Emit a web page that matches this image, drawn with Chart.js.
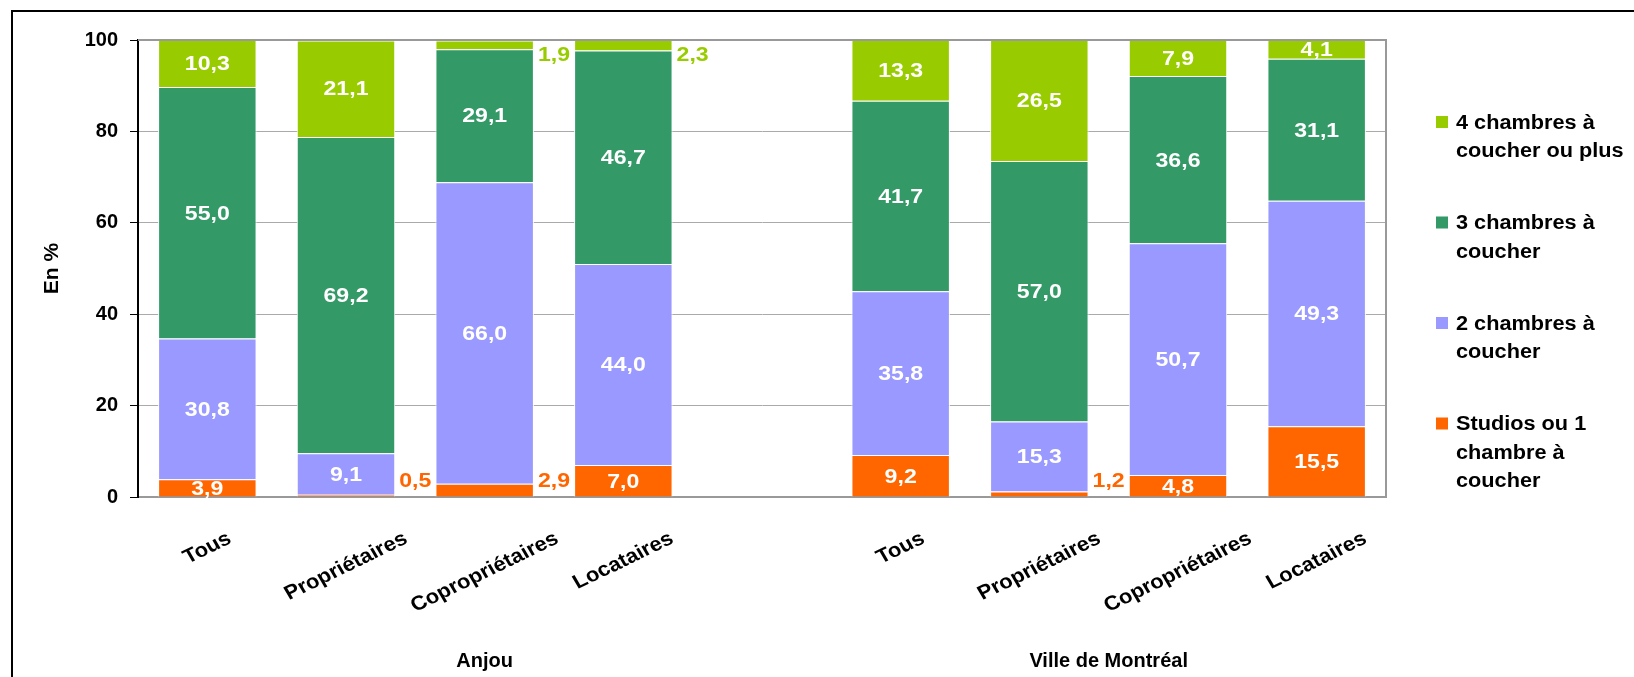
<!DOCTYPE html>
<html>
<head>
<meta charset="utf-8">
<script src="https://cdn.jsdelivr.net/npm/chart.js@4.4.0/dist/chart.umd.min.js"></script>
<style>
  html, body { margin: 0; padding: 0; background: #fff; }
  #wrap { position: relative; width: 1634px; height: 677px; overflow: hidden; }
  #frame { position: absolute; left: 11px; top: 10px; width: 1700px; height: 700px;
           border-top: 2px solid #000; border-left: 2px solid #000; }
  canvas { position: absolute; left: 0; top: 0; }
</style>
</head>
<body>
<div id="wrap">
  <div id="frame"></div>
  <canvas id="chart" width="1634" height="677"></canvas>
</div>
<script>
// categories (empty slot separates the two groups)
const categories = ['Tous', 'Propriétaires', 'Copropriétaires', 'Locataires', '',
                    'Tous', 'Propriétaires', 'Copropriétaires', 'Locataires'];
const groups = [
    { label: 'Anjou', from: 0, to: 4 },
    { label: 'Ville de Montréal', from: 5, to: 8 }
];

// values in %
const studios  = [3.9, 0.5, 2.9, 7.0, null, 9.2, 1.2, 4.8, 15.5];
const deuxCh   = [30.8, 9.1, 66.0, 44.0, null, 35.8, 15.3, 50.7, 49.3];
const troisCh  = [55.0, 69.2, 29.1, 46.7, null, 41.7, 57.0, 36.6, 31.1];
const quatreCh = [10.3, 21.1, 1.9, 2.3, null, 13.3, 26.5, 7.9, 4.1];

const seriesNames = [
    ['Studios ou 1', 'chambre à', 'coucher'],
    ['2 chambres à', 'coucher'],
    ['3 chambres à', 'coucher'],
    ['4 chambres à', 'coucher ou plus']
];
const seriesColors = ['#ff6600', '#9999ff', '#339966', '#99cc00'];

const FONT = "'Liberation Sans', Arial, sans-serif";
Chart.defaults.font.family = FONT;
Chart.defaults.color = '#000';

function fmt(v) {
    return v.toFixed(1).replace('.', ',');
}

// text in the original is a bit wider than Arial, stretch it horizontally
function wideText(ctx, text, x, y, sx) {
    ctx.save();
    ctx.translate(x, y);
    ctx.scale(sx, 1);
    ctx.fillText(text, 0, 0);
    ctx.restore();
}

const labelsPlugin = {
    id: 'segmentLabels',
    afterDatasetsDraw(chart) {
        const ctx = chart.ctx;
        const area = chart.chartArea;
        ctx.save();
        ctx.font = 'bold 21px ' + FONT;
        ctx.textBaseline = 'middle';
        chart.data.datasets.forEach((ds, i) => {
            const meta = chart.getDatasetMeta(i);
            meta.data.forEach((bar, j) => {
                const v = ds.data[j];
                if (v === null || v === undefined) return;
                const cy = (bar.y + bar.base) / 2;
                if (v >= 3) {
                    ctx.fillStyle = '#fff';
                    ctx.textAlign = 'center';
                    wideText(ctx, fmt(v), bar.x, cy + 1, 1.1);
                } else {
                    ctx.fillStyle = ds.backgroundColor;
                    ctx.textAlign = 'left';
                    const y = Math.min(Math.max(cy, area.top + 15), area.bottom - 16);
                    wideText(ctx, fmt(v), bar.x + bar.width / 2 + 4, y, 1.1);
                }
            });
        });
        ctx.restore();
    }
};

const axisTextPlugin = {
    id: 'axisText',
    afterDraw(chart) {
        const ctx = chart.ctx;
        const area = chart.chartArea;
        const x = chart.scales.x;
        ctx.save();

        // plot frame top/right
        ctx.strokeStyle = '#999';
        ctx.lineWidth = 2;
        ctx.beginPath();
        ctx.moveTo(area.left, area.top);
        ctx.lineTo(area.right, area.top);
        ctx.lineTo(area.right, area.bottom);
        ctx.stroke();

        // rotated category labels, centred under each bar
        const ang = 28 * Math.PI / 180;
        const sx = 1.1;
        ctx.fillStyle = '#000';
        ctx.font = 'bold 20px ' + FONT;
        ctx.textAlign = 'center';
        ctx.textBaseline = 'middle';
        categories.forEach((c, i) => {
            if (!c) return;
            const w = ctx.measureText(c).width;
            const h = 17;
            const boxH = w * Math.sin(ang) + h * Math.cos(ang);
            const cx = x.getPixelForValue(i);
            const cy = area.bottom + 33 + boxH / 2;
            ctx.save();
            ctx.translate(cx, cy);
            ctx.scale(sx, 1);
            ctx.rotate(-ang);
            ctx.fillText(c, 0, 0);
            ctx.restore();
        });

        // group labels
        ctx.font = 'bold 20px ' + FONT;
        groups.forEach(g => {
            ctx.fillText(g.label, x.getPixelForValue((g.from + g.to) / 2), area.bottom + 164);
        });

        // legend (top item = last series)
        const lx = area.right + 50;
        let ly = 122;
        ctx.font = 'bold 20px ' + FONT;
        ctx.textAlign = 'left';
        for (let k = seriesNames.length - 1; k >= 0; k--) {
            ctx.fillStyle = seriesColors[k];
            ctx.fillRect(lx, ly - 6, 12, 12);
            ctx.fillStyle = '#000';
            seriesNames[k].forEach((line, n) => {
                wideText(ctx, line, lx + 20, ly + 1 + n * 28.5, 1.085);
            });
            ly += 100.5;
        }
        ctx.restore();
    }
};

new Chart(document.getElementById('chart'), {
    type: 'bar',
    data: {
        labels: categories,
        datasets: seriesNames.map((name, k) => ({
            label: name.join(' '),
            data: [studios, deuxCh, troisCh, quatreCh][k],
            backgroundColor: seriesColors[k],
            borderColor: '#fff',
            borderWidth: 1,
            barPercentage: 0.71,
            categoryPercentage: 1
        }))
    },
    options: {
        responsive: false,
        animation: false,
        layout: { padding: { top: 40, right: 248, left: 0, bottom: 0 } },
        scales: {
            x: {
                stacked: true,
                grid: { display: false },
                border: { display: true, color: '#999', width: 2 },
                ticks: { display: false },
                afterFit(scale) { scale.height = 180; }
            },
            y: {
                stacked: true,
                min: 0,
                max: 100,
                ticks: {
                    stepSize: 20,
                    padding: 12,
                    font: { size: 20, weight: 'bold' }
                },
                grid: { color: '#aaa', lineWidth: 1, tickLength: 8, tickColor: '#000' },
                border: { color: '#000', width: 2 },
                title: {
                    display: true,
                    text: 'En %',
                    font: { size: 21, weight: 'bold' },
                    padding: { top: 40, bottom: 0 }
                },
                afterFit(scale) { scale.width = 138; }
            }
        },
        plugins: {
            legend: { display: false },
            tooltip: { enabled: false }
        }
    },
    plugins: [labelsPlugin, axisTextPlugin]
});
</script>
</body>
</html>
